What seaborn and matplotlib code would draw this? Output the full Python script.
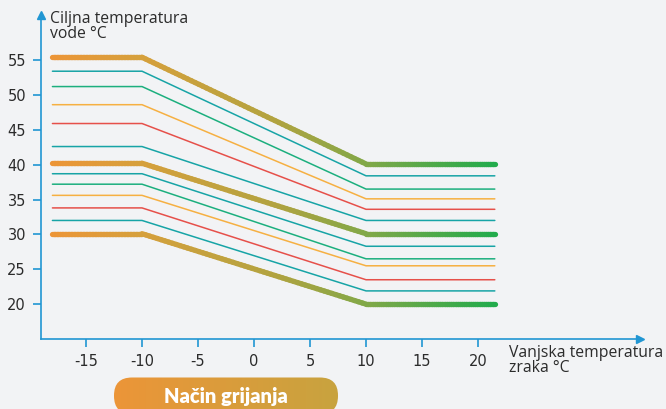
import matplotlib
matplotlib.use("Agg")
import matplotlib.pyplot as plt
import seaborn as sns
import numpy as np
from matplotlib.collections import LineCollection
from matplotlib.colors import LinearSegmentedColormap
from matplotlib.patches import FancyBboxPatch

# heating curves: water target temp at the cold and warm end of the outdoor range
outdoor_knots = [-18, -10, 10, 21.5]
water_at_cold = [55.4, 53.4, 51.2, 48.6, 45.9, 42.6, 40.2, 38.7, 37.2, 35.6, 33.8, 32.0, 30.1]
water_at_warm = [40.1, 38.4, 36.5, 35.1, 33.6, 32.0, 30.1, 28.3, 26.5, 25.5, 23.5, 21.9, 20.0]
line_kind = ['main', 'teal', 'green', 'orange', 'red', 'teal', 'main',
             'teal', 'green', 'orange', 'red', 'teal', 'main']

x_ticks = [-15, -10, -5, 0, 5, 10, 15, 20]
y_ticks = [20, 25, 30, 35, 40, 45, 50, 55]

BG = '#F2F3F5'
AXIS_BLUE = '#2196D3'
TEXT = '#2B2B2B'
thin_colors = {'teal': '#17A4A6', 'green': '#1CAF7E', 'orange': '#F6B042', 'red': '#E6504A'}
main_cmap = LinearSegmentedColormap.from_list(
    'heat', [(0.0, '#EC9537'), (0.2, '#D6A03C'), (0.5, '#B2A340'),
             (0.72, '#7FA848'), (1.0, '#22AB4C')])

sns.set_theme(style='white')
plt.rcParams['font.family'] = ['Open Sans', 'DejaVu Sans']

fig = plt.figure(figsize=(6.66, 4.09), dpi=100, facecolor=BG)
ax = fig.add_axes([0.0619, 0.1711, 0.8997, 0.7929])
ax.set_facecolor(BG)

for cold, warm, kind in zip(water_at_cold, water_at_warm, line_kind):
    ys = [cold, cold, warm, warm]
    if kind == 'main':
        # split each straight piece only so the colour can fade along x
        xs_f = np.concatenate([np.linspace(a, b, 60) for a, b in zip(outdoor_knots[:-1], outdoor_knots[1:])])
        ys_f = np.interp(xs_f, outdoor_knots, ys)
        pts = np.column_stack([xs_f, ys_f]).reshape(-1, 1, 2)
        segs = np.concatenate([pts[:-1], pts[1:]], axis=1)
        lc = LineCollection(segs, cmap=main_cmap, linewidths=3.8, capstyle='round', zorder=3)
        lc.set_array((xs_f[:-1] - outdoor_knots[0]) / (outdoor_knots[-1] - outdoor_knots[0]))
        lc.set_clim(0, 1)
        ax.add_collection(lc)
    else:
        sns.lineplot(x=outdoor_knots, y=ys, color=thin_colors[kind], lw=1.1, ax=ax, zorder=2)

ax.set_xlim(-19, 34.5)
ax.set_ylim(15, 61.5)
ax.set_xticks(x_ticks)
ax.set_xticklabels([f'{t}' for t in x_ticks])
ax.set_yticks(y_ticks)
ax.set_xlabel('')
ax.set_ylabel('')

for side in ['top', 'right']:
    ax.spines[side].set_visible(False)
for side in ['left', 'bottom']:
    ax.spines[side].set_color(AXIS_BLUE)
    ax.spines[side].set_linewidth(1.2)
ax.tick_params(axis='both', colors=AXIS_BLUE, labelcolor=TEXT, length=6, width=1.2,
               labelsize=10.5, direction='out', left=True, bottom=True)
ax.tick_params(axis='x', pad=5)
ax.tick_params(axis='y', pad=5)
for lab in ax.get_xticklabels() + ax.get_yticklabels():
    lab.set_family(['DejaVu Sans'])

# arrow heads on the axes
ax.plot([1], [0], marker='>', ms=6, color=AXIS_BLUE, transform=ax.transAxes, clip_on=False)
ax.plot([0], [1], marker='^', ms=6, color=AXIS_BLUE, transform=ax.transAxes, clip_on=False)

W, H = 666, 409
fig.text(50 / W, 1 - 11 / H, 'Ciljna temperatura\nvode °C', ha='left', va='top',
         fontsize=11.3, color=TEXT, linespacing=0.88)
fig.text(509 / W, 1 - 345 / H, 'Vanjska temperatura\nzraka °C', ha='left', va='top',
         fontsize=11.3, color=TEXT, linespacing=0.88)

# button at the bottom
btn = fig.add_axes([0, 0, 1, 1], zorder=5)
btn.set_xlim(0, W)
btn.set_ylim(H, 0)
btn.axis('off')
btn.patch.set_alpha(0)
x0, x1, y0, y1 = 114, 338, 377.5, 414
pill = FancyBboxPatch((x0 + 18, y0 + 18), (x1 - x0) - 36, (y1 - y0) - 36,
                      boxstyle='round,pad=18,rounding_size=18',
                      facecolor='none', edgecolor='none')
btn.add_patch(pill)
grad = np.linspace(0, 1, 256).reshape(1, -1)
btn_cmap = LinearSegmentedColormap.from_list('btn', ['#EC9538', '#C8A33F'])
im = btn.imshow(grad, cmap=btn_cmap, extent=[x0, x1, y1, y0], aspect='auto')
im.set_clip_path(pill)
btn.set_xlim(0, W)
btn.set_ylim(H, 0)
btn.text((x0 + x1) / 2, 396, 'Način grijanja', ha='center', va='center', color='white',
         fontsize=14.5, fontweight='heavy', family=['Lato', 'DejaVu Sans'])

fig.savefig('out.png', dpi=100, facecolor=BG)
